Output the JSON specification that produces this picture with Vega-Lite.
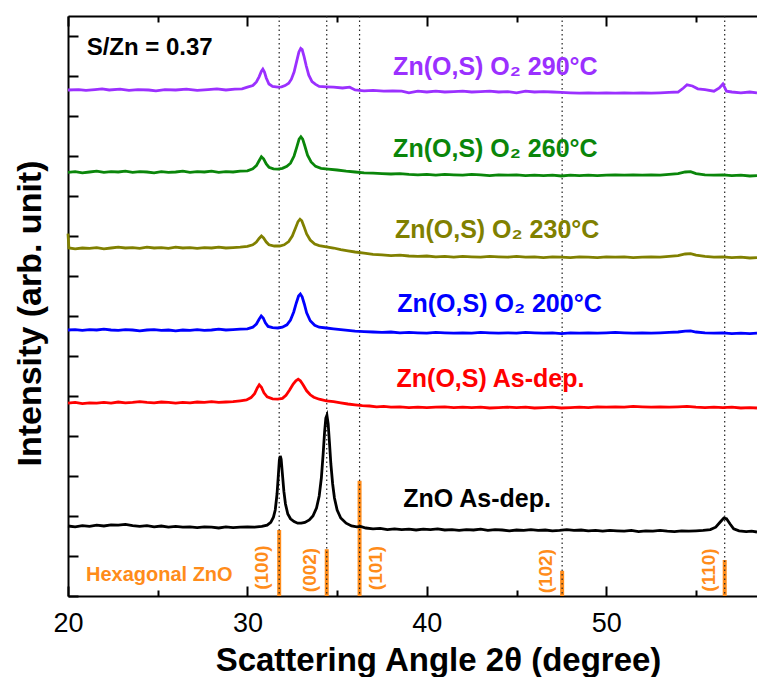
{
"$schema": "https://vega.github.io/schema/vega-lite/v6.json",
"width": 689, "height": 580,
"autosize": "none",
"padding": {"left": 68, "top": 16, "right": 0, "bottom": 81},
"config": {"view": {"stroke": null}, "font": "Liberation Sans"},
"resolve": {"axis": {"x": "independent", "y": "independent"}},
"layer": [
{
"data": {"values": [{"x":31.77,"h":1.65},{"x":34.42,"h":1.17},{"x":36.25,"h":2.88},{"x":47.54,"h":0.63},{"x":56.6,"h":0.9}]},
"mark": {"type": "rule", "color": "#FF8C1A", "strokeWidth": 4},
"encoding": {
"x": {"field": "x", "type": "quantitative", "scale": {"domain": [20, 58.4], "nice": false, "zero": false},
"axis": {"orient": "bottom", "values": [25,35,45,55], "labels": false, "title": null, "grid": false, "domain": false, "tickSize": -6, "tickWidth": 2, "tickColor": "#000000"}},
"y": {"field": "h", "type": "quantitative", "scale": {"domain": [0, 14.5], "nice": false, "zero": false}, "axis": null},
"y2": {"datum": 0}
}
},
{
"data": {"values": [{"x":31.77},{"x":34.42},{"x":36.25},{"x":47.54},{"x":56.6}]},
"mark": {"type": "rule", "color": "#222222", "strokeWidth": 1.2, "strokeDash": [1.5, 3]},
"encoding": {
"x": {"field": "x", "type": "quantitative", "scale": {"domain": [20, 58.4], "nice": false, "zero": false},
"axis": {"orient": "top", "values": [20,30,40,50], "labels": false, "title": null, "grid": false, "tickSize": -10, "tickWidth": 2, "tickColor": "#000000", "domainWidth": 2, "domainColor": "#000000"}}
}
},
{
"data": {"values": [
{"s":"k","x":20.0,"y":1.75},{"s":"k","x":20.4,"y":1.73},{"s":"k","x":20.8,"y":1.76},{"s":"k","x":21.2,"y":1.74},{"s":"k","x":21.6,"y":1.77},{"s":"k","x":22.0,"y":1.75},{"s":"k","x":22.4,"y":1.78},{"s":"k","x":22.8,"y":1.77},{"s":"k","x":23.2,"y":1.79},{"s":"k","x":23.6,"y":1.76},{"s":"k","x":24.0,"y":1.74},{"s":"k","x":24.4,"y":1.76},{"s":"k","x":24.8,"y":1.73},{"s":"k","x":25.2,"y":1.75},{"s":"k","x":25.6,"y":1.72},{"s":"k","x":26.0,"y":1.74},{"s":"k","x":26.4,"y":1.72},{"s":"k","x":26.8,"y":1.73},{"s":"k","x":27.2,"y":1.71},{"s":"k","x":27.6,"y":1.73},{"s":"k","x":28.0,"y":1.72},{"s":"k","x":28.4,"y":1.70},{"s":"k","x":28.8,"y":1.73},{"s":"k","x":29.2,"y":1.71},{"s":"k","x":29.6,"y":1.72},{"s":"k","x":30.0,"y":1.73},{"s":"k","x":30.4,"y":1.72},{"s":"k","x":30.8,"y":1.74},{"s":"k","x":31.1,"y":1.77},{"s":"k","x":31.3,"y":1.84},{"s":"k","x":31.45,"y":1.97},{"s":"k","x":31.55,"y":2.15},{"s":"k","x":31.65,"y":2.55},{"s":"k","x":31.72,"y":3.0},{"s":"k","x":31.78,"y":3.4},{"s":"k","x":31.83,"y":3.5},{"s":"k","x":31.88,"y":3.42},{"s":"k","x":31.95,"y":3.05},{"s":"k","x":32.03,"y":2.62},{"s":"k","x":32.12,"y":2.3},{"s":"k","x":32.25,"y":2.05},{"s":"k","x":32.4,"y":1.93},{"s":"k","x":32.6,"y":1.86},{"s":"k","x":32.8,"y":1.82},{"s":"k","x":33.0,"y":1.82},{"s":"k","x":33.2,"y":1.84},{"s":"k","x":33.45,"y":1.9},{"s":"k","x":33.65,"y":2.0},{"s":"k","x":33.85,"y":2.2},{"s":"k","x":34.0,"y":2.5},{"s":"k","x":34.12,"y":2.95},{"s":"k","x":34.22,"y":3.55},{"s":"k","x":34.3,"y":4.1},{"s":"k","x":34.37,"y":4.45},{"s":"k","x":34.43,"y":4.52},{"s":"k","x":34.5,"y":4.3},{"s":"k","x":34.57,"y":3.85},{"s":"k","x":34.65,"y":3.3},{"s":"k","x":34.75,"y":2.8},{"s":"k","x":34.85,"y":2.45},{"s":"k","x":35.0,"y":2.15},{"s":"k","x":35.2,"y":1.95},{"s":"k","x":35.5,"y":1.82},{"s":"k","x":35.8,"y":1.75},{"s":"k","x":36.1,"y":1.73},{"s":"k","x":36.3,"y":1.74},{"s":"k","x":36.6,"y":1.7},{"s":"k","x":37.0,"y":1.68},{"s":"k","x":37.4,"y":1.69},{"s":"k","x":37.8,"y":1.66},{"s":"k","x":38.2,"y":1.68},{"s":"k","x":38.6,"y":1.66},{"s":"k","x":39.0,"y":1.67},{"s":"k","x":39.4,"y":1.65},{"s":"k","x":39.8,"y":1.67},{"s":"k","x":40.2,"y":1.66},{"s":"k","x":40.6,"y":1.68},{"s":"k","x":41.0,"y":1.65},{"s":"k","x":41.4,"y":1.66},{"s":"k","x":41.8,"y":1.64},{"s":"k","x":42.2,"y":1.66},{"s":"k","x":42.6,"y":1.65},{"s":"k","x":43.0,"y":1.67},{"s":"k","x":43.4,"y":1.64},{"s":"k","x":43.8,"y":1.66},{"s":"k","x":44.2,"y":1.65},{"s":"k","x":44.6,"y":1.63},{"s":"k","x":45.0,"y":1.65},{"s":"k","x":45.4,"y":1.64},{"s":"k","x":45.8,"y":1.66},{"s":"k","x":46.2,"y":1.64},{"s":"k","x":46.6,"y":1.65},{"s":"k","x":47.0,"y":1.63},{"s":"k","x":47.4,"y":1.64},{"s":"k","x":47.8,"y":1.66},{"s":"k","x":48.2,"y":1.64},{"s":"k","x":48.6,"y":1.65},{"s":"k","x":49.0,"y":1.63},{"s":"k","x":49.4,"y":1.64},{"s":"k","x":49.8,"y":1.62},{"s":"k","x":50.2,"y":1.64},{"s":"k","x":50.6,"y":1.63},{"s":"k","x":51.0,"y":1.62},{"s":"k","x":51.4,"y":1.64},{"s":"k","x":51.8,"y":1.61},{"s":"k","x":52.2,"y":1.63},{"s":"k","x":52.6,"y":1.62},{"s":"k","x":53.0,"y":1.64},{"s":"k","x":53.4,"y":1.62},{"s":"k","x":53.8,"y":1.61},{"s":"k","x":54.2,"y":1.63},{"s":"k","x":54.6,"y":1.62},{"s":"k","x":55.0,"y":1.63},{"s":"k","x":55.4,"y":1.64},{"s":"k","x":55.8,"y":1.66},{"s":"k","x":56.1,"y":1.72},{"s":"k","x":56.35,"y":1.85},{"s":"k","x":56.55,"y":1.95},{"s":"k","x":56.7,"y":1.93},{"s":"k","x":56.9,"y":1.8},{"s":"k","x":57.1,"y":1.68},{"s":"k","x":57.4,"y":1.63},{"s":"k","x":57.8,"y":1.61},{"s":"k","x":58.1,"y":1.62},{"s":"k","x":58.4,"y":1.6},
{"s":"r","x":20.0,"y":4.82},{"s":"r","x":20.4,"y":4.84},{"s":"r","x":20.8,"y":4.81},{"s":"r","x":21.2,"y":4.83},{"s":"r","x":21.6,"y":4.82},{"s":"r","x":22.0,"y":4.84},{"s":"r","x":22.4,"y":4.82},{"s":"r","x":22.8,"y":4.85},{"s":"r","x":23.2,"y":4.83},{"s":"r","x":23.6,"y":4.84},{"s":"r","x":24.0,"y":4.86},{"s":"r","x":24.4,"y":4.84},{"s":"r","x":24.8,"y":4.83},{"s":"r","x":25.2,"y":4.85},{"s":"r","x":25.6,"y":4.84},{"s":"r","x":26.0,"y":4.82},{"s":"r","x":26.4,"y":4.84},{"s":"r","x":26.8,"y":4.83},{"s":"r","x":27.2,"y":4.85},{"s":"r","x":27.6,"y":4.84},{"s":"r","x":28.0,"y":4.86},{"s":"r","x":28.4,"y":4.84},{"s":"r","x":28.8,"y":4.85},{"s":"r","x":29.2,"y":4.86},{"s":"r","x":29.6,"y":4.88},{"s":"r","x":29.95,"y":4.9},{"s":"r","x":30.2,"y":4.96},{"s":"r","x":30.4,"y":5.06},{"s":"r","x":30.55,"y":5.2},{"s":"r","x":30.66,"y":5.28},{"s":"r","x":30.78,"y":5.22},{"s":"r","x":30.92,"y":5.08},{"s":"r","x":31.1,"y":4.98},{"s":"r","x":31.4,"y":4.93},{"s":"r","x":31.7,"y":4.92},{"s":"r","x":31.95,"y":4.94},{"s":"r","x":32.15,"y":5.02},{"s":"r","x":32.35,"y":5.15},{"s":"r","x":32.55,"y":5.3},{"s":"r","x":32.7,"y":5.38},{"s":"r","x":32.83,"y":5.42},{"s":"r","x":32.95,"y":5.38},{"s":"r","x":33.1,"y":5.28},{"s":"r","x":33.3,"y":5.13},{"s":"r","x":33.5,"y":5.03},{"s":"r","x":33.7,"y":4.97},{"s":"r","x":34.0,"y":4.92},{"s":"r","x":34.4,"y":4.88},{"s":"r","x":34.8,"y":4.86},{"s":"r","x":35.2,"y":4.83},{"s":"r","x":35.6,"y":4.8},{"s":"r","x":36.0,"y":4.78},{"s":"r","x":36.4,"y":4.76},{"s":"r","x":36.8,"y":4.75},{"s":"r","x":37.2,"y":4.73},{"s":"r","x":37.6,"y":4.74},{"s":"r","x":38.0,"y":4.72},{"s":"r","x":38.5,"y":4.73},{"s":"r","x":39.0,"y":4.71},{"s":"r","x":39.5,"y":4.72},{"s":"r","x":40.0,"y":4.71},{"s":"r","x":40.5,"y":4.72},{"s":"r","x":41.0,"y":4.73},{"s":"r","x":41.5,"y":4.71},{"s":"r","x":42.0,"y":4.72},{"s":"r","x":42.5,"y":4.71},{"s":"r","x":43.0,"y":4.72},{"s":"r","x":43.5,"y":4.7},{"s":"r","x":44.0,"y":4.71},{"s":"r","x":44.5,"y":4.72},{"s":"r","x":45.0,"y":4.71},{"s":"r","x":45.5,"y":4.72},{"s":"r","x":46.0,"y":4.7},{"s":"r","x":46.5,"y":4.71},{"s":"r","x":47.0,"y":4.72},{"s":"r","x":47.5,"y":4.7},{"s":"r","x":48.0,"y":4.71},{"s":"r","x":48.5,"y":4.72},{"s":"r","x":49.0,"y":4.71},{"s":"r","x":49.5,"y":4.73},{"s":"r","x":50.0,"y":4.72},{"s":"r","x":50.5,"y":4.73},{"s":"r","x":51.0,"y":4.72},{"s":"r","x":51.5,"y":4.74},{"s":"r","x":52.0,"y":4.73},{"s":"r","x":52.5,"y":4.72},{"s":"r","x":53.0,"y":4.73},{"s":"r","x":53.5,"y":4.72},{"s":"r","x":54.0,"y":4.73},{"s":"r","x":54.5,"y":4.74},{"s":"r","x":55.0,"y":4.72},{"s":"r","x":55.5,"y":4.71},{"s":"r","x":56.0,"y":4.72},{"s":"r","x":56.5,"y":4.71},{"s":"r","x":57.0,"y":4.72},{"s":"r","x":57.5,"y":4.7},{"s":"r","x":58.0,"y":4.71},{"s":"r","x":58.4,"y":4.7},
{"s":"b","x":20.0,"y":6.65},{"s":"b","x":20.4,"y":6.66},{"s":"b","x":20.8,"y":6.64},{"s":"b","x":21.2,"y":6.66},{"s":"b","x":21.6,"y":6.65},{"s":"b","x":22.0,"y":6.67},{"s":"b","x":22.4,"y":6.65},{"s":"b","x":22.8,"y":6.64},{"s":"b","x":23.2,"y":6.66},{"s":"b","x":23.6,"y":6.65},{"s":"b","x":24.0,"y":6.63},{"s":"b","x":24.4,"y":6.65},{"s":"b","x":24.8,"y":6.66},{"s":"b","x":25.2,"y":6.64},{"s":"b","x":25.6,"y":6.65},{"s":"b","x":26.0,"y":6.63},{"s":"b","x":26.4,"y":6.65},{"s":"b","x":26.8,"y":6.64},{"s":"b","x":27.2,"y":6.66},{"s":"b","x":27.6,"y":6.64},{"s":"b","x":28.0,"y":6.65},{"s":"b","x":28.4,"y":6.67},{"s":"b","x":28.8,"y":6.65},{"s":"b","x":29.2,"y":6.66},{"s":"b","x":29.6,"y":6.67},{"s":"b","x":30.0,"y":6.68},{"s":"b","x":30.3,"y":6.72},{"s":"b","x":30.5,"y":6.8},{"s":"b","x":30.65,"y":6.92},{"s":"b","x":30.77,"y":7.0},{"s":"b","x":30.88,"y":6.95},{"s":"b","x":31.0,"y":6.83},{"s":"b","x":31.15,"y":6.74},{"s":"b","x":31.4,"y":6.71},{"s":"b","x":31.7,"y":6.7},{"s":"b","x":31.95,"y":6.72},{"s":"b","x":32.2,"y":6.78},{"s":"b","x":32.4,"y":6.9},{"s":"b","x":32.58,"y":7.1},{"s":"b","x":32.72,"y":7.32},{"s":"b","x":32.85,"y":7.5},{"s":"b","x":32.95,"y":7.55},{"s":"b","x":33.05,"y":7.48},{"s":"b","x":33.17,"y":7.3},{"s":"b","x":33.3,"y":7.08},{"s":"b","x":33.5,"y":6.88},{"s":"b","x":33.75,"y":6.77},{"s":"b","x":34.0,"y":6.72},{"s":"b","x":34.4,"y":6.7},{"s":"b","x":34.8,"y":6.68},{"s":"b","x":35.2,"y":6.66},{"s":"b","x":35.6,"y":6.64},{"s":"b","x":36.0,"y":6.62},{"s":"b","x":36.5,"y":6.61},{"s":"b","x":37.0,"y":6.6},{"s":"b","x":37.5,"y":6.59},{"s":"b","x":38.0,"y":6.6},{"s":"b","x":38.5,"y":6.58},{"s":"b","x":39.0,"y":6.59},{"s":"b","x":39.5,"y":6.58},{"s":"b","x":40.0,"y":6.57},{"s":"b","x":40.5,"y":6.59},{"s":"b","x":41.0,"y":6.58},{"s":"b","x":41.5,"y":6.57},{"s":"b","x":42.0,"y":6.58},{"s":"b","x":42.5,"y":6.57},{"s":"b","x":43.0,"y":6.59},{"s":"b","x":43.5,"y":6.58},{"s":"b","x":44.0,"y":6.57},{"s":"b","x":44.5,"y":6.58},{"s":"b","x":45.0,"y":6.57},{"s":"b","x":45.5,"y":6.59},{"s":"b","x":46.0,"y":6.58},{"s":"b","x":46.5,"y":6.57},{"s":"b","x":47.0,"y":6.58},{"s":"b","x":47.5,"y":6.56},{"s":"b","x":48.0,"y":6.58},{"s":"b","x":48.5,"y":6.57},{"s":"b","x":49.0,"y":6.58},{"s":"b","x":49.5,"y":6.57},{"s":"b","x":50.0,"y":6.58},{"s":"b","x":50.5,"y":6.59},{"s":"b","x":51.0,"y":6.58},{"s":"b","x":51.5,"y":6.57},{"s":"b","x":52.0,"y":6.58},{"s":"b","x":52.5,"y":6.57},{"s":"b","x":53.0,"y":6.58},{"s":"b","x":53.5,"y":6.59},{"s":"b","x":54.0,"y":6.6},{"s":"b","x":54.4,"y":6.62},{"s":"b","x":54.7,"y":6.63},{"s":"b","x":55.0,"y":6.6},{"s":"b","x":55.5,"y":6.58},{"s":"b","x":56.0,"y":6.57},{"s":"b","x":56.5,"y":6.58},{"s":"b","x":57.0,"y":6.56},{"s":"b","x":57.5,"y":6.57},{"s":"b","x":58.0,"y":6.56},{"s":"b","x":58.4,"y":6.57},
{"s":"o","x":20.0,"y":9.06},{"s":"o","x":20.05,"y":8.7},{"s":"o","x":20.4,"y":8.68},{"s":"o","x":20.8,"y":8.7},{"s":"o","x":21.2,"y":8.69},{"s":"o","x":21.6,"y":8.71},{"s":"o","x":22.0,"y":8.68},{"s":"o","x":22.4,"y":8.7},{"s":"o","x":22.8,"y":8.72},{"s":"o","x":23.2,"y":8.7},{"s":"o","x":23.6,"y":8.71},{"s":"o","x":24.0,"y":8.69},{"s":"o","x":24.4,"y":8.72},{"s":"o","x":24.8,"y":8.7},{"s":"o","x":25.2,"y":8.71},{"s":"o","x":25.6,"y":8.69},{"s":"o","x":26.0,"y":8.72},{"s":"o","x":26.4,"y":8.7},{"s":"o","x":26.8,"y":8.71},{"s":"o","x":27.2,"y":8.69},{"s":"o","x":27.6,"y":8.71},{"s":"o","x":28.0,"y":8.7},{"s":"o","x":28.4,"y":8.72},{"s":"o","x":28.8,"y":8.7},{"s":"o","x":29.2,"y":8.71},{"s":"o","x":29.6,"y":8.72},{"s":"o","x":30.0,"y":8.74},{"s":"o","x":30.3,"y":8.78},{"s":"o","x":30.5,"y":8.85},{"s":"o","x":30.65,"y":8.94},{"s":"o","x":30.78,"y":9.0},{"s":"o","x":30.9,"y":8.95},{"s":"o","x":31.05,"y":8.85},{"s":"o","x":31.2,"y":8.78},{"s":"o","x":31.5,"y":8.75},{"s":"o","x":31.8,"y":8.75},{"s":"o","x":32.05,"y":8.78},{"s":"o","x":32.3,"y":8.86},{"s":"o","x":32.5,"y":9.0},{"s":"o","x":32.68,"y":9.2},{"s":"o","x":32.82,"y":9.36},{"s":"o","x":32.93,"y":9.42},{"s":"o","x":33.03,"y":9.38},{"s":"o","x":33.15,"y":9.24},{"s":"o","x":33.3,"y":9.05},{"s":"o","x":33.5,"y":8.9},{"s":"o","x":33.75,"y":8.8},{"s":"o","x":34.0,"y":8.76},{"s":"o","x":34.4,"y":8.73},{"s":"o","x":34.8,"y":8.7},{"s":"o","x":35.2,"y":8.66},{"s":"o","x":35.6,"y":8.63},{"s":"o","x":36.0,"y":8.6},{"s":"o","x":36.5,"y":8.57},{"s":"o","x":37.0,"y":8.54},{"s":"o","x":37.5,"y":8.53},{"s":"o","x":38.0,"y":8.51},{"s":"o","x":38.5,"y":8.52},{"s":"o","x":39.0,"y":8.5},{"s":"o","x":39.5,"y":8.49},{"s":"o","x":40.0,"y":8.5},{"s":"o","x":40.5,"y":8.48},{"s":"o","x":41.0,"y":8.49},{"s":"o","x":41.5,"y":8.47},{"s":"o","x":42.0,"y":8.49},{"s":"o","x":42.5,"y":8.48},{"s":"o","x":43.0,"y":8.47},{"s":"o","x":43.5,"y":8.49},{"s":"o","x":44.0,"y":8.48},{"s":"o","x":44.5,"y":8.47},{"s":"o","x":45.0,"y":8.49},{"s":"o","x":45.5,"y":8.47},{"s":"o","x":46.0,"y":8.48},{"s":"o","x":46.5,"y":8.46},{"s":"o","x":47.0,"y":8.48},{"s":"o","x":47.5,"y":8.47},{"s":"o","x":48.0,"y":8.46},{"s":"o","x":48.5,"y":8.48},{"s":"o","x":49.0,"y":8.47},{"s":"o","x":49.5,"y":8.46},{"s":"o","x":50.0,"y":8.48},{"s":"o","x":50.5,"y":8.47},{"s":"o","x":51.0,"y":8.48},{"s":"o","x":51.5,"y":8.46},{"s":"o","x":52.0,"y":8.47},{"s":"o","x":52.5,"y":8.48},{"s":"o","x":53.0,"y":8.47},{"s":"o","x":53.5,"y":8.49},{"s":"o","x":54.0,"y":8.51},{"s":"o","x":54.4,"y":8.55},{"s":"o","x":54.7,"y":8.56},{"s":"o","x":55.0,"y":8.52},{"s":"o","x":55.5,"y":8.49},{"s":"o","x":56.0,"y":8.47},{"s":"o","x":56.5,"y":8.48},{"s":"o","x":57.0,"y":8.46},{"s":"o","x":57.5,"y":8.47},{"s":"o","x":58.0,"y":8.45},{"s":"o","x":58.4,"y":8.46},
{"s":"g","x":20.0,"y":10.59},{"s":"g","x":20.4,"y":10.61},{"s":"g","x":20.8,"y":10.58},{"s":"g","x":21.2,"y":10.6},{"s":"g","x":21.6,"y":10.62},{"s":"g","x":22.0,"y":10.59},{"s":"g","x":22.4,"y":10.61},{"s":"g","x":22.8,"y":10.6},{"s":"g","x":23.2,"y":10.62},{"s":"g","x":23.6,"y":10.59},{"s":"g","x":24.0,"y":10.61},{"s":"g","x":24.4,"y":10.6},{"s":"g","x":24.8,"y":10.58},{"s":"g","x":25.2,"y":10.61},{"s":"g","x":25.6,"y":10.59},{"s":"g","x":26.0,"y":10.6},{"s":"g","x":26.4,"y":10.62},{"s":"g","x":26.8,"y":10.59},{"s":"g","x":27.2,"y":10.61},{"s":"g","x":27.6,"y":10.6},{"s":"g","x":28.0,"y":10.62},{"s":"g","x":28.4,"y":10.59},{"s":"g","x":28.8,"y":10.61},{"s":"g","x":29.2,"y":10.6},{"s":"g","x":29.6,"y":10.62},{"s":"g","x":30.0,"y":10.63},{"s":"g","x":30.3,"y":10.68},{"s":"g","x":30.5,"y":10.76},{"s":"g","x":30.65,"y":10.88},{"s":"g","x":30.78,"y":10.98},{"s":"g","x":30.9,"y":10.93},{"s":"g","x":31.05,"y":10.8},{"s":"g","x":31.2,"y":10.72},{"s":"g","x":31.45,"y":10.68},{"s":"g","x":31.7,"y":10.67},{"s":"g","x":31.95,"y":10.69},{"s":"g","x":32.2,"y":10.74},{"s":"g","x":32.4,"y":10.82},{"s":"g","x":32.6,"y":11.0},{"s":"g","x":32.75,"y":11.22},{"s":"g","x":32.88,"y":11.42},{"s":"g","x":32.98,"y":11.48},{"s":"g","x":33.08,"y":11.42},{"s":"g","x":33.2,"y":11.25},{"s":"g","x":33.35,"y":11.02},{"s":"g","x":33.55,"y":10.85},{"s":"g","x":33.8,"y":10.74},{"s":"g","x":34.1,"y":10.69},{"s":"g","x":34.5,"y":10.67},{"s":"g","x":35.0,"y":10.65},{"s":"g","x":35.5,"y":10.62},{"s":"g","x":36.0,"y":10.6},{"s":"g","x":36.5,"y":10.58},{"s":"g","x":37.0,"y":10.57},{"s":"g","x":37.5,"y":10.56},{"s":"g","x":38.0,"y":10.55},{"s":"g","x":38.5,"y":10.56},{"s":"g","x":39.0,"y":10.54},{"s":"g","x":39.5,"y":10.53},{"s":"g","x":40.0,"y":10.54},{"s":"g","x":40.5,"y":10.52},{"s":"g","x":41.0,"y":10.54},{"s":"g","x":41.5,"y":10.53},{"s":"g","x":42.0,"y":10.52},{"s":"g","x":42.5,"y":10.54},{"s":"g","x":43.0,"y":10.53},{"s":"g","x":43.5,"y":10.51},{"s":"g","x":44.0,"y":10.53},{"s":"g","x":44.5,"y":10.52},{"s":"g","x":45.0,"y":10.53},{"s":"g","x":45.5,"y":10.51},{"s":"g","x":46.0,"y":10.52},{"s":"g","x":46.5,"y":10.51},{"s":"g","x":47.0,"y":10.52},{"s":"g","x":47.5,"y":10.5},{"s":"g","x":48.0,"y":10.52},{"s":"g","x":48.5,"y":10.51},{"s":"g","x":49.0,"y":10.52},{"s":"g","x":49.5,"y":10.51},{"s":"g","x":50.0,"y":10.52},{"s":"g","x":50.5,"y":10.53},{"s":"g","x":51.0,"y":10.52},{"s":"g","x":51.5,"y":10.53},{"s":"g","x":52.0,"y":10.52},{"s":"g","x":52.5,"y":10.53},{"s":"g","x":53.0,"y":10.52},{"s":"g","x":53.5,"y":10.54},{"s":"g","x":54.0,"y":10.56},{"s":"g","x":54.4,"y":10.6},{"s":"g","x":54.7,"y":10.61},{"s":"g","x":55.0,"y":10.56},{"s":"g","x":55.5,"y":10.53},{"s":"g","x":56.0,"y":10.52},{"s":"g","x":56.5,"y":10.53},{"s":"g","x":57.0,"y":10.51},{"s":"g","x":57.5,"y":10.52},{"s":"g","x":58.0,"y":10.5},{"s":"g","x":58.4,"y":10.51},
{"s":"p","x":20.0,"y":12.65},{"s":"p","x":20.6,"y":12.66},{"s":"p","x":21.0,"y":12.64},{"s":"p","x":21.5,"y":12.66},{"s":"p","x":21.9,"y":12.68},{"s":"p","x":22.3,"y":12.65},{"s":"p","x":22.9,"y":12.67},{"s":"p","x":23.4,"y":12.64},{"s":"p","x":23.9,"y":12.66},{"s":"p","x":24.5,"y":12.65},{"s":"p","x":24.9,"y":12.63},{"s":"p","x":25.4,"y":12.66},{"s":"p","x":26.0,"y":12.65},{"s":"p","x":26.6,"y":12.67},{"s":"p","x":27.2,"y":12.64},{"s":"p","x":27.8,"y":12.66},{"s":"p","x":28.3,"y":12.68},{"s":"p","x":28.8,"y":12.65},{"s":"p","x":29.3,"y":12.67},{"s":"p","x":29.7,"y":12.68},{"s":"p","x":30.0,"y":12.72},{"s":"p","x":30.3,"y":12.76},{"s":"p","x":30.5,"y":12.85},{"s":"p","x":30.65,"y":12.98},{"s":"p","x":30.78,"y":13.12},{"s":"p","x":30.86,"y":13.17},{"s":"p","x":30.95,"y":13.1},{"s":"p","x":31.05,"y":12.95},{"s":"p","x":31.2,"y":12.8},{"s":"p","x":31.4,"y":12.74},{"s":"p","x":31.7,"y":12.72},{"s":"p","x":31.9,"y":12.73},{"s":"p","x":32.1,"y":12.76},{"s":"p","x":32.3,"y":12.82},{"s":"p","x":32.45,"y":12.92},{"s":"p","x":32.6,"y":13.1},{"s":"p","x":32.75,"y":13.38},{"s":"p","x":32.87,"y":13.6},{"s":"p","x":32.97,"y":13.69},{"s":"p","x":33.05,"y":13.66},{"s":"p","x":33.15,"y":13.5},{"s":"p","x":33.28,"y":13.25},{"s":"p","x":33.42,"y":13.02},{"s":"p","x":33.6,"y":12.86},{"s":"p","x":33.8,"y":12.79},{"s":"p","x":34.0,"y":12.74},{"s":"p","x":34.4,"y":12.73},{"s":"p","x":34.8,"y":12.72},{"s":"p","x":35.3,"y":12.7},{"s":"p","x":35.7,"y":12.72},{"s":"p","x":36.0,"y":12.65},{"s":"p","x":36.5,"y":12.63},{"s":"p","x":37.0,"y":12.64},{"s":"p","x":37.6,"y":12.62},{"s":"p","x":38.1,"y":12.63},{"s":"p","x":38.6,"y":12.62},{"s":"p","x":39.0,"y":12.58},{"s":"p","x":39.5,"y":12.62},{"s":"p","x":40.0,"y":12.6},{"s":"p","x":40.5,"y":12.62},{"s":"p","x":41.0,"y":12.6},{"s":"p","x":41.5,"y":12.61},{"s":"p","x":42.0,"y":12.62},{"s":"p","x":42.5,"y":12.6},{"s":"p","x":43.0,"y":12.61},{"s":"p","x":43.5,"y":12.62},{"s":"p","x":44.0,"y":12.6},{"s":"p","x":44.5,"y":12.61},{"s":"p","x":45.0,"y":12.58},{"s":"p","x":45.5,"y":12.62},{"s":"p","x":46.0,"y":12.6},{"s":"p","x":46.5,"y":12.61},{"s":"p","x":47.0,"y":12.6},{"s":"p","x":47.5,"y":12.59},{"s":"p","x":48.0,"y":12.58},{"s":"p","x":48.5,"y":12.57},{"s":"p","x":49.0,"y":12.58},{"s":"p","x":49.5,"y":12.57},{"s":"p","x":50.0,"y":12.58},{"s":"p","x":50.5,"y":12.57},{"s":"p","x":51.0,"y":12.58},{"s":"p","x":51.5,"y":12.57},{"s":"p","x":52.0,"y":12.58},{"s":"p","x":52.5,"y":12.57},{"s":"p","x":53.0,"y":12.58},{"s":"p","x":53.5,"y":12.59},{"s":"p","x":54.0,"y":12.6},{"s":"p","x":54.3,"y":12.7},{"s":"p","x":54.5,"y":12.78},{"s":"p","x":54.8,"y":12.75},{"s":"p","x":55.1,"y":12.68},{"s":"p","x":55.5,"y":12.66},{"s":"p","x":56.0,"y":12.62},{"s":"p","x":56.3,"y":12.7},{"s":"p","x":56.5,"y":12.8},{"s":"p","x":56.7,"y":12.62},{"s":"p","x":57.0,"y":12.6},{"s":"p","x":57.5,"y":12.58},{"s":"p","x":58.0,"y":12.6},{"s":"p","x":58.4,"y":12.58}
]},
"mark": {"type": "line", "strokeWidth": 2.8},
"encoding": {
"x": {"field": "x", "type": "quantitative", "scale": {"domain": [20, 58.4], "nice": false, "zero": false},
"axis": {"orient": "bottom", "values": [20,30,40,50], "grid": false, "tickSize": -10, "tickWidth": 2, "tickColor": "#000000", "domainWidth": 2, "domainColor": "#000000",
"labelFontSize": 27, "labelColor": "#000000", "labelFont": "Liberation Sans", "labelPadding": 24, "labelFlush": false, "labelOverlap": false,
"title": "Scattering Angle 2θ (degree)", "titleFontSize": 33, "titleFontWeight": "bold", "titleFont": "Liberation Sans", "titleColor": "#000000", "titleX": 370, "titleY": 74, "titleAlign": "center", "titleBaseline": "alphabetic"}},
"y": {"field": "y", "type": "quantitative", "scale": {"domain": [0, 14.5], "nice": false, "zero": false},
"axis": {"orient": "left", "values": [0,1,2,3,4,5,6,7,8,9,10,11,12,13,14], "labels": false, "grid": false, "tickSize": -10, "tickWidth": 2, "tickColor": "#000000", "domainWidth": 2, "domainColor": "#000000",
"title": "Intensity (arb. unit)", "titleFontSize": 34, "titleFontWeight": "bold", "titleFont": "Liberation Sans", "titleColor": "#000000", "titleX": -28, "titleY": 297, "titleAngle": 270, "titleAlign": "center", "titleBaseline": "alphabetic"}},
"color": {"field": "s", "type": "nominal", "scale": {"domain": ["k","r","b","o","g","p"], "range": ["#000000","#FF0000","#0000FF","#808000","#0A860A","#9B30FF"]}, "legend": null}
}
},
{
"data": {"values": [
{"s":"p","x":38.12,"y":13.025,"t":"Zn(O,S) O₂ 290°C"},
{"s":"g","x":38.12,"y":10.975,"t":"Zn(O,S) O₂ 260°C"},
{"s":"o","x":38.22,"y":8.96,"t":"Zn(O,S) O₂ 230°C"},
{"s":"b","x":38.35,"y":7.11,"t":"Zn(O,S) O₂ 200°C"},
{"s":"r","x":38.31,"y":5.22,"t":"Zn(O,S) As-dep."},
{"s":"k","x":38.68,"y":2.23,"t":"ZnO As-dep."}
]},
"mark": {"type": "text", "align": "left", "baseline": "alphabetic", "fontSize": 25, "fontWeight": "bold", "font": "Liberation Sans"},
"encoding": {
"x": {"field": "x", "type": "quantitative", "scale": {"domain": [20, 58.4], "nice": false, "zero": false}, "axis": null},
"y": {"field": "y", "type": "quantitative", "scale": {"domain": [0, 14.5], "nice": false, "zero": false}, "axis": null},
"text": {"field": "t"},
"color": {"field": "s", "type": "nominal", "legend": null}
}
},
{
"data": {"values": [
{"x":30.8,"y":0.71,"t":"(100)"},
{"x":33.48,"y":0.65,"t":"(002)"},
{"x":37.16,"y":0.7,"t":"(101)"},
{"x":46.63,"y":0.62,"t":"(102)"},
{"x":55.71,"y":0.65,"t":"(110)"}
]},
"mark": {"type": "text", "angle": 270, "align": "center", "baseline": "middle", "fontSize": 19, "fontWeight": "bold", "font": "Liberation Sans", "color": "#FF8C1A"},
"encoding": {
"x": {"field": "x", "type": "quantitative", "scale": {"domain": [20, 58.4], "nice": false, "zero": false},
"axis": {"orient": "top", "values": [25,35,45,55], "labels": false, "title": null, "grid": false, "domain": false, "tickSize": -6, "tickWidth": 2, "tickColor": "#000000"}},
"y": {"field": "y", "type": "quantitative", "scale": {"domain": [0, 14.5], "nice": false, "zero": false}, "axis": null},
"text": {"field": "t"}
}
},
{
"data": {"values": [{"x":21.0,"y":0.375,"t":"Hexagonal ZnO"}]},
"mark": {"type": "text", "align": "left", "baseline": "alphabetic", "fontSize": 20, "fontWeight": "bold", "font": "Liberation Sans", "color": "#FF8C1A"},
"encoding": {
"x": {"field": "x", "type": "quantitative", "scale": {"domain": [20, 58.4], "nice": false, "zero": false}, "axis": null},
"y": {"field": "y", "type": "quantitative", "scale": {"domain": [0, 14.5], "nice": false, "zero": false}, "axis": null},
"text": {"field": "t"}
}
},
{
"data": {"values": [{"x":21.04,"y":13.525,"t":"S/Zn = 0.37"}]},
"mark": {"type": "text", "align": "left", "baseline": "alphabetic", "fontSize": 24, "fontWeight": "bold", "font": "Liberation Sans", "color": "#000000"},
"encoding": {
"x": {"field": "x", "type": "quantitative", "scale": {"domain": [20, 58.4], "nice": false, "zero": false}, "axis": null},
"y": {"field": "y", "type": "quantitative", "scale": {"domain": [0, 14.5], "nice": false, "zero": false}, "axis": null},
"text": {"field": "t"}
}
}
]
}
